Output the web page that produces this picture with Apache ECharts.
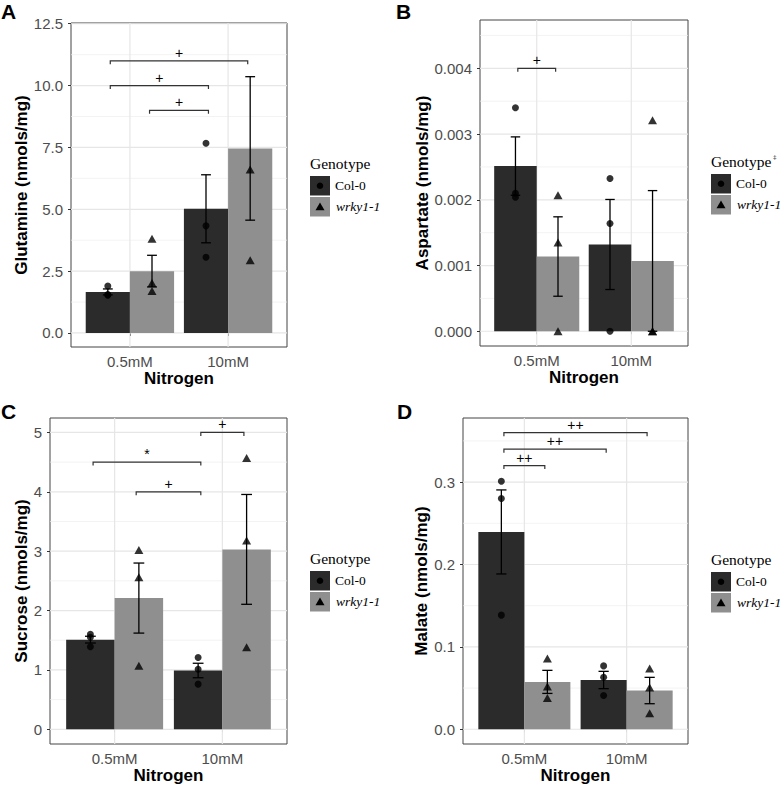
<!DOCTYPE html>
<html><head><meta charset="utf-8">
<script src="https://cdn.jsdelivr.net/npm/echarts@6/dist/echarts.min.js"></script>
<style>html,body{margin:0;padding:0;background:#fff}#c{width:784px;height:787px}</style>
</head><body><div id="c"></div>
<script>
// ---------- DATA ----------
const categories = ['0.5mM', '10mM'];
const genotypes = ['Col-0', 'wrky1-1'];

// A: Glutamine
const glnColMean = [1.66, 5.02];
const glnColSE = [0.12, 1.375];
const glnWrkyMean = [2.50, 7.46];
const glnWrkySE = [0.64, 2.90];
const glnColPts = [[1.90, 1.55, 1.53], [7.67, 4.33, 3.06]];
const glnWrkyPts = [[3.81, 2.02, 1.70], [6.61, 2.94]];
const glnTicks = [0, 2.5, 5, 7.5, 10, 12.5];
const glnTickLabels = ['0.0', '2.5', '5.0', '7.5', '10.0', '12.5'];
const glnMinor = [1.25, 3.75, 6.25, 8.75, 11.25];
// bracket: [fromCat, fromGeno, toCat, toGeno, y]
const glnSig = [[0, 0, 1, 1, 11.0], [0, 0, 1, 0, 10.0], [0, 1, 1, 0, 9.0]];
const glnSigLabels = ['+', '+', '+'];

// B: Aspartate
const aspColMean = [0.002513, 0.00132];
const aspColSE = [0.000444, 0.000685];
const aspWrkyMean = [0.001137, 0.00107];
const aspWrkySE = [0.000604, 0.00107];
const aspColPts = [[0.00340, 0.00210, 0.00204], [0.002325, 0.00164, 0]];
const aspWrkyPts = [[0.00207, 0.00135, 0], [0.00321, 0, 0]];
const aspTicks = [0, 0.001, 0.002, 0.003, 0.004];
const aspTickLabels = ['0.000', '0.001', '0.002', '0.003', '0.004'];
const aspMinor = [0.0005, 0.0015, 0.0025, 0.0035, 0.0045];
const aspSig = [[0, 0, 0, 1, 0.004]];
const aspSigLabels = ['+'];

// C: Sucrose
const sucColMean = [1.51, 0.99];
const sucColSE = [0.057, 0.122];
const sucWrkyMean = [2.21, 3.03];
const sucWrkySE = [0.59, 0.925];
const sucColPts = [[1.60, 1.55, 1.39], [1.21, 1.01, 0.76]];
const sucWrkyPts = [[3.02, 2.56, 1.07], [4.57, 3.18, 1.38]];
const sucTicks = [0, 1, 2, 3, 4, 5];
const sucTickLabels = ['0', '1', '2', '3', '4', '5'];
const sucMinor = [0.5, 1.5, 2.5, 3.5, 4.5];
const sucSig = [[1, 0, 1, 1, 5.0], [0, 0, 1, 0, 4.5], [0, 1, 1, 0, 4.0]];
const sucSigLabels = ['+', '*', '+'];

// D: Malate
const malColMean = [0.2395, 0.0598];
const malColSE = [0.051, 0.0105];
const malWrkyMean = [0.0575, 0.047];
const malWrkySE = [0.014, 0.016];
const malColPts = [[0.301, 0.280, 0.1385], [0.0769, 0.0632, 0.0409]];
const malWrkyPts = [[0.0858, 0.0518, 0.038], [0.0737, 0.0506, 0.0194]];
const malTicks = [0, 0.1, 0.2, 0.3];
const malTickLabels = ['0.0', '0.1', '0.2', '0.3'];
const malMinor = [0.05, 0.15, 0.25, 0.35];
const malSig = [[0, 0, 1, 1, 0.36], [0, 0, 1, 0, 0.34], [0, 0, 0, 1, 0.32]];
const malSigLabels = ['++', '++', '++'];

// ---------- STYLE / LAYOUT ----------
const DARK = '#2b2b2b', LIGHT = '#8f8f8f';
const SANS = 'Liberation Sans, Arial, Helvetica, sans-serif';
const SERIF = 'Liberation Serif, Times New Roman, serif';
const DODGE = 0.45, PT_OFF = 0.225, SIG_OFF = 0.2, CAP = 0.05;

const panels = [
  { letter: 'A', lx: 1, ly: 11, grid: { left: 71, top: 23, width: 216, height: 324 }, yMin: -0.567, yMax: 12.53,
    ticks: glnTicks, tickLabels: glnTickLabels, minor: glnMinor, yName: 'Glutamine (nmols/mg)', yGap: 40,
    colMean: glnColMean, colSE: glnColSE, wrkyMean: glnWrkyMean, wrkySE: glnWrkySE, colPts: glnColPts, wrkyPts: glnWrkyPts,
    sig: glnSig, sigLabels: glnSigLabels, legend: [310, 176], legendMark: false },
  { letter: 'B', lx: 396, ly: 11, grid: { left: 480, top: 20, width: 208, height: 326 }, yMin: -0.000224, yMax: 0.004735,
    ticks: aspTicks, tickLabels: aspTickLabels, minor: aspMinor, yName: 'Aspartate (nmols/mg)', yGap: 47,
    colMean: aspColMean, colSE: aspColSE, wrkyMean: aspWrkyMean, wrkySE: aspWrkySE, colPts: aspColPts, wrkyPts: aspWrkyPts,
    sig: aspSig, sigLabels: aspSigLabels, legend: [711, 174], legendMark: true },
  { letter: 'C', lx: 1, ly: 411, grid: { left: 50, top: 418, width: 237, height: 326 }, yMin: -0.248, yMax: 5.243,
    ticks: sucTicks, tickLabels: sucTickLabels, minor: sucMinor, yName: 'Sucrose (nmols/mg)', yGap: 19,
    colMean: sucColMean, colSE: sucColSE, wrkyMean: sucWrkyMean, wrkySE: sucWrkySE, colPts: sucColPts, wrkyPts: sucWrkyPts,
    sig: sucSig, sigLabels: sucSigLabels, legend: [310, 571], legendMark: false },
  { letter: 'D', lx: 397, ly: 411, grid: { left: 463, top: 418, width: 225, height: 326 }, yMin: -0.0179, yMax: 0.3778,
    ticks: malTicks, tickLabels: malTickLabels, minor: malMinor, yName: 'Malate (nmols/mg)', yGap: 30,
    colMean: malColMean, colSE: malColSE, wrkyMean: malWrkyMean, wrkySE: malWrkySE, colPts: malColPts, wrkyPts: malWrkyPts,
    sig: malSig, sigLabels: malSigLabels, legend: [711, 572], legendMark: false }
];

// ---------- RENDERERS ----------
function gridRender(params, api) {
  const cs = params.coordSys;
  const v = api.value(0), kind = api.value(1);
  if (kind === 2) {
    const x = api.coord([v, 0])[0];
    return { type: 'line', shape: { x1: x, y1: cs.y, x2: x, y2: cs.y + cs.height }, style: { stroke: '#e6e6e6', lineWidth: 1.2 } };
  }
  const y = api.coord([1, v])[1];
  return { type: 'line', shape: { x1: cs.x, y1: y, x2: cs.x + cs.width, y2: y },
    style: { stroke: kind === 0 ? '#e6e6e6' : '#eeeeee', lineWidth: kind === 0 ? 1.2 : 0.7 } };
}
function barRender(params, api) {
  const cat = api.value(0), val = api.value(1), g = api.value(2);
  const left = cat + (g === 0 ? -DODGE : 0);
  const p0 = api.coord([left, 0]);
  const p1 = api.coord([left + DODGE, val]);
  return { type: 'rect', shape: { x: p0[0], y: p1[1], width: p1[0] - p0[0], height: p0[1] - p1[1] },
    style: { fill: g === 0 ? DARK : LIGHT } };
}
function errRender(params, api) {
  const x = api.value(0), m = api.value(1), se = api.value(2);
  const hi = api.coord([x, m + se]), lo = api.coord([x, m - se]);
  const l = api.coord([x - CAP, m])[0], r = api.coord([x + CAP, m])[0];
  const st = { stroke: '#000', lineWidth: 1.3 };
  return { type: 'group', children: [
    { type: 'line', shape: { x1: hi[0], y1: hi[1], x2: lo[0], y2: lo[1] }, style: st },
    { type: 'line', shape: { x1: l, y1: hi[1], x2: r, y2: hi[1] }, style: st },
    { type: 'line', shape: { x1: l, y1: lo[1], x2: r, y2: lo[1] }, style: st }
  ] };
}
function sigRenderFactory(labels) {
  return function (params, api) {
    const a = api.coord([api.value(0), api.value(2)]);
    const b = api.coord([api.value(1), api.value(2)]);
    const tip = 3.5;
    return { type: 'group', children: [
      { type: 'polyline', shape: { points: [[a[0], a[1] + tip], [a[0], a[1]], [b[0], b[1]], [b[0], b[1] + tip]] },
        style: { stroke: '#333', lineWidth: 1.2, fill: null } },
      { type: 'text', x: (a[0] + b[0]) / 2, y: a[1] - 1,
        style: { text: labels[params.dataIndex], fill: '#000', fontSize: 14, fontFamily: SANS, align: 'center', verticalAlign: 'bottom' } }
    ] };
  };
}

// ---------- BUILD OPTION ----------
const grids = [], xAxes = [], yAxes = [], series = [], graphics = [];
panels.forEach((p, i) => {
  grids.push(Object.assign({ show: true, borderColor: '#444', borderWidth: 1, backgroundColor: '#fff', containLabel: false }, p.grid));
  xAxes.push({
    type: 'value', gridIndex: i, min: 0.4, max: 2.6,
    name: 'Nitrogen', nameLocation: 'middle', nameGap: 23,
    nameTextStyle: { fontFamily: SANS, fontWeight: 'bold', fontSize: 17, color: '#000' },
    axisLine: { show: false },
    axisTick: { show: true, length: 3, lineStyle: { color: '#333' }, customValues: [1, 2] },
    axisLabel: { customValues: [1, 2], margin: 7, color: '#4d4d4d', fontSize: 15, fontFamily: SANS,
      formatter: v => categories[Math.round(v) - 1] },
    splitLine: { show: false }
  });
  const tks = p.ticks, tls = p.tickLabels;
  yAxes.push({
    type: 'value', gridIndex: i, min: p.yMin, max: p.yMax,
    name: p.yName, nameLocation: 'middle', nameGap: p.yGap,
    nameTextStyle: { fontFamily: SANS, fontWeight: 'bold', fontSize: 17, color: '#000' },
    axisLine: { show: false },
    axisTick: { show: true, length: 3, lineStyle: { color: '#333' }, customValues: tks },
    axisLabel: { customValues: tks, margin: 8, color: '#4d4d4d', fontSize: 15, fontFamily: SANS,
      formatter: v => { const k = tks.findIndex(t => Math.abs(t - v) < 1e-9); return k >= 0 ? tls[k] : ''; } },
    splitLine: { show: false }
  });
  // gridlines
  const gdata = p.ticks.map(v => [v, 0]).concat(p.minor.map(v => [v, 1])).concat(categories.map((c, k) => [k + 1, 2]));
  series.push({ type: 'custom', name: 'grid' + i, xAxisIndex: i, yAxisIndex: i, z: 1, silent: true,
    renderItem: gridRender, data: gdata });
  // bars
  series.push({ type: 'custom', name: genotypes[0], xAxisIndex: i, yAxisIndex: i, z: 2,
    renderItem: barRender, data: p.colMean.map((m, k) => [k + 1, m, 0]) });
  series.push({ type: 'custom', name: genotypes[1], xAxisIndex: i, yAxisIndex: i, z: 2,
    renderItem: barRender, data: p.wrkyMean.map((m, k) => [k + 1, m, 1]) });
  // error bars
  series.push({ type: 'custom', name: 'err-col' + i, xAxisIndex: i, yAxisIndex: i, z: 3,
    renderItem: errRender, data: p.colMean.map((m, k) => [k + 1 - PT_OFF, m, p.colSE[k]]) });
  series.push({ type: 'custom', name: 'err-wrky' + i, xAxisIndex: i, yAxisIndex: i, z: 3,
    renderItem: errRender, data: p.wrkyMean.map((m, k) => [k + 1 + PT_OFF, m, p.wrkySE[k]]) });
  // points
  const colPts = [], wrkyPts = [];
  p.colPts.forEach((arr, k) => arr.forEach(v => colPts.push([k + 1 - PT_OFF, v])));
  p.wrkyPts.forEach((arr, k) => arr.forEach(v => wrkyPts.push([k + 1 + PT_OFF, v])));
  series.push({ type: 'scatter', name: genotypes[0] + ' pts', xAxisIndex: i, yAxisIndex: i, z: 4,
    symbol: 'circle', symbolSize: 7, itemStyle: { color: '#000' }, data: colPts });
  series.push({ type: 'scatter', name: genotypes[1] + ' pts', xAxisIndex: i, yAxisIndex: i, z: 4,
    symbol: 'triangle', symbolSize: [9, 8], itemStyle: { color: '#000' }, data: wrkyPts });
  // significance brackets
  const sdata = p.sig.map(s => [s[0] + 1 + (s[1] ? SIG_OFF : -SIG_OFF), s[2] + 1 + (s[3] ? SIG_OFF : -SIG_OFF), s[4]]);
  series.push({ type: 'custom', name: 'sig' + i, xAxisIndex: i, yAxisIndex: i, z: 5, silent: true,
    renderItem: sigRenderFactory(p.sigLabels), data: sdata });

  // panel letter
  graphics.push({ type: 'text', x: p.lx, y: p.ly, style: { text: p.letter, fontSize: 21, fontWeight: 'bold', fontFamily: SANS, fill: '#000', verticalAlign: 'middle' } });
  // legend
  const [lx, ly] = p.legend;
  const kw = 20, kh = 19.5, pitch = 21;
  graphics.push({ type: 'text', x: lx, y: ly - 13, style: { text: 'Genotype', fontSize: 15.5, fontFamily: SERIF, fill: '#000', verticalAlign: 'middle' } });
  if (p.legendMark) graphics.push({ type: 'text', x: lx + 62, y: ly - 17, style: { text: '\u2021', fontSize: 7, fontFamily: SERIF, fill: '#000', verticalAlign: 'middle' } });
  graphics.push({ type: 'rect', shape: { x: lx, y: ly, width: kw, height: kh }, style: { fill: DARK } });
  graphics.push({ type: 'circle', shape: { cx: lx + kw / 2, cy: ly + kh / 2, r: 3.3 }, style: { fill: '#000' } });
  graphics.push({ type: 'text', x: lx + 25, y: ly + kh / 2, style: { text: genotypes[0], fontSize: 13.5, fontFamily: SERIF, fill: '#000', verticalAlign: 'middle' } });
  graphics.push({ type: 'rect', shape: { x: lx, y: ly + pitch, width: kw, height: kh }, style: { fill: LIGHT } });
  const cx = lx + kw / 2, cy = ly + pitch + kh / 2;
  graphics.push({ type: 'polygon', shape: { points: [[cx, cy - 4.2], [cx + 4.5, cy + 3.4], [cx - 4.5, cy + 3.4]] }, style: { fill: '#000' } });
  graphics.push({ type: 'text', x: lx + 26, y: ly + pitch + kh / 2, style: { text: genotypes[1], fontSize: 13.5, fontStyle: 'italic', fontFamily: SERIF, fill: '#000', verticalAlign: 'middle' } });
});

const chart = echarts.init(document.getElementById('c'), null, { renderer: 'svg', width: 784, height: 787 });
chart.setOption({
  animation: false,
  backgroundColor: '#fff',
  grid: grids, xAxis: xAxes, yAxis: yAxes, series: series,
  graphic: graphics
});
</script></body></html>
